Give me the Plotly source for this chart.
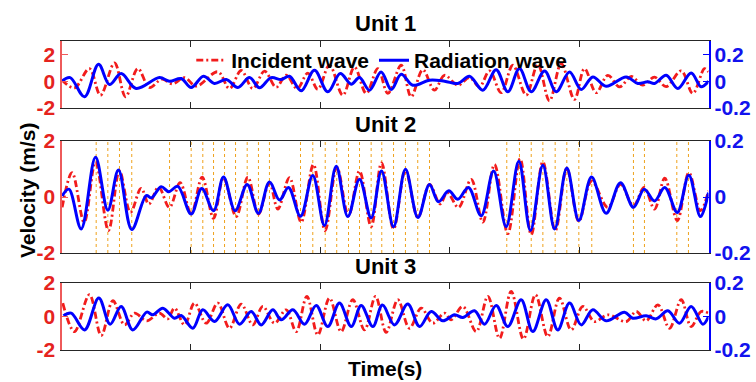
import plotly.graph_objects as go

# ---------------- data ----------------
time_ticks = [10, 20, 30, 40]
left_ticks = [-2, 0, 2]
left_tick_text = ["-2", "0", "2"]
right_ticks = [-0.2, 0, 0.2]
right_tick_text = ["-0.2", "0", "0.2"]
unit_names = ["Unit 1", "Unit 2", "Unit 3"]

# Unit 1
u1_inc_t = [0.03, 1.0, 2.16, 3.01, 4.10, 4.95, 5.90, 6.80, 7.75, 8.60, 9.51, 10.41, 12.08, 12.98, 13.89,
            14.78, 15.69, 16.59, 17.36, 18.21, 19.04, 19.81, 20.71, 21.74, 22.64, 23.55, 24.45, 25.22,
            26.25, 27.02, 27.92, 28.82, 29.60, 30.63, 31.53, 32.30, 33.08, 33.98, 34.88, 35.91, 36.81,
            37.71, 38.62, 39.64, 40.42, 41.32, 42.22, 43.12, 44.03, 44.92, 45.83, 46.73, 47.89, 48.79,
            49.69, 50.0]
u1_inc_v = [0.1, -0.5, 0.94, -1.05, 1.36, -1.16, 0.94, -0.47, 0.15, -0.2, 0.27, -0.37, 0.7, -0.55, 0.8,
            -0.55, 0.75, -0.45, 0.45, -0.55, 0.6, -0.6, 1.2, -1.04, 1.05, -0.91, 0.94, -0.91, 1.19, -1.16,
            0.86, -0.67, 0.44, -0.3, 0.27, -0.42, 0.77, -0.86, 1.19, -1.04, 1.26, -1.46, 1.31, -1.36, 0.94,
            -0.86, 0.44, -0.42, 0.35, -0.3, 0.3, -0.4, 0.77, -0.91, 0.94, 0.7]
u1_rad_t = [0.03, 0.67, 1.78, 2.86, 3.71, 4.61, 5.77, 7.57, 8.35, 9.25, 10.02, 10.97, 11.82, 12.73, 13.63,
            14.53, 15.30, 16.20, 16.98, 17.62, 18.52, 19.55, 20.58, 21.54, 22.39, 23.03, 23.80, 24.7, 25.48,
            26.25, 27.15, 28.44, 29.6, 30.63, 31.53, 32.56, 33.59, 34.49, 35.39, 36.30, 37.33, 38.23, 39.26,
            40.16, 41.06, 42.09, 43.64, 44.54, 45.31, 45.83, 46.73, 47.63, 48.66, 49.43, 50.0]
u1_rad_v = [0, 0.027, -0.116, 0.126, -0.025, 0.057, -0.054, 0.027, 0.0, 0.02, -0.047, 0.037, -0.017, 0.012,
            -0.047, 0.027, -0.049, 0.027, 0.012, 0.037, -0.072, 0.081, -0.079, 0.057, -0.022, 0.027, -0.067,
            0.069, -0.062, 0.052, -0.03, 0.007, 0.0, -0.017, 0.037, -0.067, 0.086, -0.079, 0.094, -0.079,
            0.077, -0.079, 0.069, -0.062, 0.032, -0.037, 0.032, -0.017, -0.005, -0.017, 0.044, -0.054,
            0.062, -0.042, 0.0]

# Unit 2
u2_inc_t = [0.05, 0.82, 1.75, 2.63, 3.63, 4.48, 5.33, 6.15, 6.75, 7.5, 8.34, 9.17, 10.02, 10.87, 11.75,
            12.52, 13.50, 14.40, 15.22, 16.07, 16.72, 17.62, 18.52, 19.47, 20.37, 21.28, 22.18, 23.03,
            23.93, 24.73, 25.66, 26.58, 27.54, 28.44, 29.26, 29.81, 30.68, 31.66, 32.56, 33.46, 34.49,
            35.44, 36.30, 37.20, 38.16, 39.05, 39.98, 40.96, 42.22, 43.20, 44.20, 45.03, 45.83, 46.62,
            47.59, 48.48, 49.38, 50.0]
u2_inc_v = [-0.37, 0.87, -0.9, 1.25, -1.2, 0.93, -0.55, 0.31, -0.25, 0.35, -0.37, 0.51, -0.61, 0.71, -0.76,
            0.69, -0.70, 0.71, -0.61, 0.51, -0.43, 0.69, -0.90, 1.16, -1.2, 1.07, -0.67, 0.93, -1.06, 1.22,
            -1.14, 0.95, -0.73, 0.45, -0.25, 0.16, -0.37, 0.63, -0.9, 1.16, -1.31, 1.37, -1.34, 1.26, -1.20,
            1.02, -0.87, 0.57, -0.37, 0.45, -0.31, 0.34, -0.43, 0.67, -0.84, 0.87, -0.49, 0.22]
u2_rad_t = [0.05, 0.57, 1.52, 2.63, 3.58, 4.40, 5.43, 6.55, 6.95, 7.70, 8.29, 8.99, 10.02, 10.84, 11.75,
            12.52, 13.42, 14.35, 15.22, 16.07, 16.85, 17.54, 18.47, 19.42, 20.32, 21.23, 22.13, 23.03,
            23.93, 24.73, 25.66, 26.58, 27.54, 28.44, 29.13, 29.93, 30.63, 31.45, 32.43, 33.39, 34.36,
            35.34, 36.24, 37.20, 38.11, 39.05, 39.98, 40.96, 42.09, 43.20, 44.20, 45.03, 45.83, 46.62,
            47.59, 48.48, 49.38, 50.0]
u2_rad_v = [0.004, 0.028, -0.114, 0.142, -0.047, 0.096, -0.116, 0.005, -0.003, 0.037, 0.019, 0.038, -0.061,
            0.030, -0.049, 0.071, -0.049, 0.045, -0.058, 0.054, -0.011, 0.034, -0.069, 0.077, -0.102, 0.110,
            -0.070, 0.063, -0.075, 0.093, -0.106, 0.099, -0.073, 0.045, -0.017, 0.022, -0.008, 0.034,
            -0.067, 0.093, -0.106, 0.128, -0.120, 0.113, -0.114, 0.104, -0.084, 0.071, -0.058, 0.051,
            -0.037, 0.028, -0.014, 0.034, -0.055, 0.078, -0.070, 0.016]
u2_marker_t = [2.68, 3.58, 4.48, 5.43, 8.35, 10.02, 10.92, 11.75, 12.60, 13.45, 14.35, 15.22, 16.07,
               18.47, 19.42, 20.38, 21.27, 22.18, 23.03, 23.93, 24.75, 25.66, 26.58, 27.53, 28.44,
               34.41, 35.39, 36.30, 37.20, 38.15, 39.05, 39.98, 40.98, 44.20, 45.05, 47.55, 48.45]

# Unit 3
u3_inc_t = [0.1, 1.0, 2.16, 3.07, 3.97, 4.87, 5.64, 6.59, 7.57, 8.21, 8.73, 9.51, 10.28, 11.18, 12.08,
            12.98, 13.89, 14.78, 15.56, 16.46, 17.36, 18.14, 18.96, 19.81, 20.71, 21.61, 22.51, 23.42,
            24.27, 25.09, 25.99, 26.89, 27.80, 28.69, 29.6, 30.11, 31.01, 32.05, 32.95, 33.85, 34.75,
            35.70, 36.63, 37.58, 38.48, 39.39, 40.29, 41.19, 42.22, 43.64, 44.41, 45.18, 46.09, 46.99,
            47.89, 48.66, 49.43, 50.0]
u3_inc_v = [0.8, -0.9, 1.3, -1.14, 0.94, -0.5, 0.2, -0.26, 0.2, -0.14, 0.5, -0.5, 0.8, -0.4, 0.8, -0.7,
            0.74, -0.5, 0.6, -0.4, 0.4, -0.9, 1.2, -1.1, 1.1, -0.9, 1.0, -0.8, 1.2, -0.95, 1.0, -0.7, 0.5,
            -0.4, 0.2, -0.2, 0.6, -0.9, 1.2, -1.3, 1.5, -1.34, 1.3, -1.2, 1.1, -0.8, 0.6, -0.3, 0.1, -0.3,
            0.3, -0.26, 0.7, -0.7, 1.0, -0.6, 0.3, 0.2]
u3_rad_t = [0.15, 0.75, 1.78, 2.88, 3.76, 4.61, 5.51, 6.59, 7.06, 7.83, 8.73, 9.25, 10.15, 10.92, 11.82,
            12.85, 13.76, 14.66, 15.43, 16.33, 16.98, 17.88, 18.78, 19.68, 20.58, 21.48, 22.39, 23.16,
            24.06, 24.8, 25.73, 26.76, 27.67, 28.57, 29.47, 30.37, 31.01, 31.92, 32.69, 33.59, 34.49,
            35.52, 36.42, 37.46, 38.35, 39.26, 40.16, 41.06, 42.09, 43.51, 44.15, 45.18, 45.96, 46.86,
            47.76, 48.66, 49.56, 50.0]
u3_rad_v = [0.004, 0.02, -0.08, 0.11, -0.046, 0.06, -0.08, 0.026, 0.01, 0.05, -0.01, 0.006, -0.07, 0.04,
            -0.03, 0.07, -0.046, 0.03, -0.05, 0.04, -0.02, 0.04, -0.046, 0.066, -0.06, 0.08, -0.06, 0.066,
            -0.06, 0.068, -0.05, 0.074, -0.06, 0.03, -0.026, 0.01, -0.006, 0.034, -0.046, 0.066, -0.06,
            0.1, -0.09, 0.1, -0.08, 0.08, -0.05, 0.04, -0.026, 0.026, -0.01, 0.004, -0.014, 0.034, -0.04,
            0.06, -0.046, 0.0]

# ---------------- styling ----------------
W, H = 756, 382
FONT = "Liberation Sans, Arial, sans-serif"
FS = 21
RED = "#F21C1C"
RED_TXT = "#E5231E"
RED_SPINE = "#EE5A5A"
BLUE = "#0000FF"
BLUE_TXT = "#1212EE"
ORANGE = "#EFA21C"
FRAME = "#262626"

x_dom = [61.5 / W, 708.5 / W]
# panel pixel extents (top, bottom)
panels_px = [(41, 108), (141, 253), (283, 350)]
y_doms = [[1 - b / H, 1 - t / H] for (t, b) in panels_px]
left_ranges = [[-2, 3], [-2, 2], [-2, 2]]
right_ranges = [[-0.2, 0.3], [-0.2, 0.2], [-0.2, 0.2]]

inc = [(u1_inc_t, u1_inc_v), (u2_inc_t, u2_inc_v), (u3_inc_t, u3_inc_v)]
rad = [(u1_rad_t, u1_rad_v), (u2_rad_t, u2_rad_v), (u3_rad_t, u3_rad_v)]

fig = go.Figure()
layout = {}

for i in range(3):
    xn = "x" if i == 0 else f"x{i + 1}"
    yl = "y" if i == 0 else f"y{2 * i + 1}"
    yr = f"y{2 * i + 2}"
    xkey = "xaxis" if i == 0 else f"xaxis{i + 1}"
    ylkey = "yaxis" if i == 0 else f"yaxis{2 * i + 1}"
    yrkey = f"yaxis{2 * i + 2}"

    if i == 1:
        vx, vy = [], []
        for t in u2_marker_t:
            vx += [t, t, None]
            vy += [left_ranges[1][0], left_ranges[1][1], None]
        fig.add_trace(go.Scatter(x=vx, y=vy, xaxis=xn, yaxis=yl, mode="lines",
                                 line=dict(color=ORANGE, width=1, dash="dot"),
                                 showlegend=False, hoverinfo="skip"))

    fig.add_trace(go.Scatter(x=inc[i][0], y=inc[i][1], xaxis=xn, yaxis=yl, mode="lines",
                             name="Incident wave", showlegend=(i == 0),
                             line=dict(color=RED, width=2.8, dash="7px,3px,2px,3px",
                                       shape="spline", smoothing=1.0)))
    fig.add_trace(go.Scatter(x=rad[i][0], y=rad[i][1], xaxis=xn, yaxis=yr, mode="lines",
                             name="Radiation wave", showlegend=(i == 0),
                             line=dict(color=BLUE, width=3, shape="spline", smoothing=1.0)))

    layout[xkey] = dict(domain=x_dom, anchor=yl, range=[0, 50], tickvals=time_ticks,
                        showticklabels=False, ticks="inside", ticklen=6, tickcolor=FRAME,
                        showline=True, linecolor=FRAME, linewidth=1, mirror="ticks",
                        showgrid=False, zeroline=False, fixedrange=True, automargin=False)
    layout[ylkey] = dict(domain=y_doms[i], anchor=xn, range=left_ranges[i], tickvals=left_ticks,
                         ticktext=left_tick_text, ticks="inside", ticklen=6, tickcolor=RED_SPINE,
                         showline=True, linecolor=RED_SPINE, linewidth=2,
                         tickfont=dict(family=FONT, size=FS, color=RED_TXT, weight="bold"),
                         showgrid=False, zeroline=False, fixedrange=True, automargin=False)
    layout[yrkey] = dict(overlaying=yl, side="right", anchor=xn, range=right_ranges[i],
                         tickvals=right_ticks, ticktext=right_tick_text, ticks="inside", ticklen=6,
                         tickcolor=BLUE, showline=True, linecolor=BLUE, linewidth=1.5,
                         tickfont=dict(family=FONT, size=FS, color=BLUE_TXT, weight="bold"),
                         showgrid=False, zeroline=False, fixedrange=True, automargin=False)

annotations = []
for i, name in enumerate(unit_names):
    top_px = panels_px[i][0]
    annotations.append(dict(text=f"<b>{name}</b>", x=(x_dom[0] + x_dom[1]) / 2, y=1 - (top_px - 17) / H,
                            xref="paper", yref="paper", xanchor="center", yanchor="middle",
                            showarrow=False, font=dict(family=FONT, size=FS + 1, color="black")))
annotations.append(dict(text="<b>Velocity (m/s)</b>", x=27 / W, y=1 - 191 / H, xref="paper", yref="paper",
                        xanchor="center", yanchor="middle", textangle=-90, showarrow=False,
                        font=dict(family=FONT, size=FS, color="black")))
annotations.append(dict(text="<b>Time(s)</b>", x=(x_dom[0] + x_dom[1]) / 2, y=1 - 368 / H,
                        xref="paper", yref="paper", xanchor="center", yanchor="middle",
                        showarrow=False, font=dict(family=FONT, size=FS, color="black")))

fig.update_layout(
    template="none",
    width=W, height=H, autosize=False,
    margin=dict(l=0, r=0, t=0, b=0, pad=0, autoexpand=False),
    paper_bgcolor="white", plot_bgcolor="white",
    showlegend=True,
    legend=dict(orientation="h", x=0.505, xanchor="center", y=1 - 40 / H, yanchor="top",
                bgcolor="rgba(0,0,0,0)", borderwidth=0, itemwidth=30,
                font=dict(family=FONT, size=FS, color="black", weight="bold"),
                tracegroupgap=0, itemclick=False, itemdoubleclick=False),
    annotations=annotations,
    **layout,
)

fig.write_html("out.html")
